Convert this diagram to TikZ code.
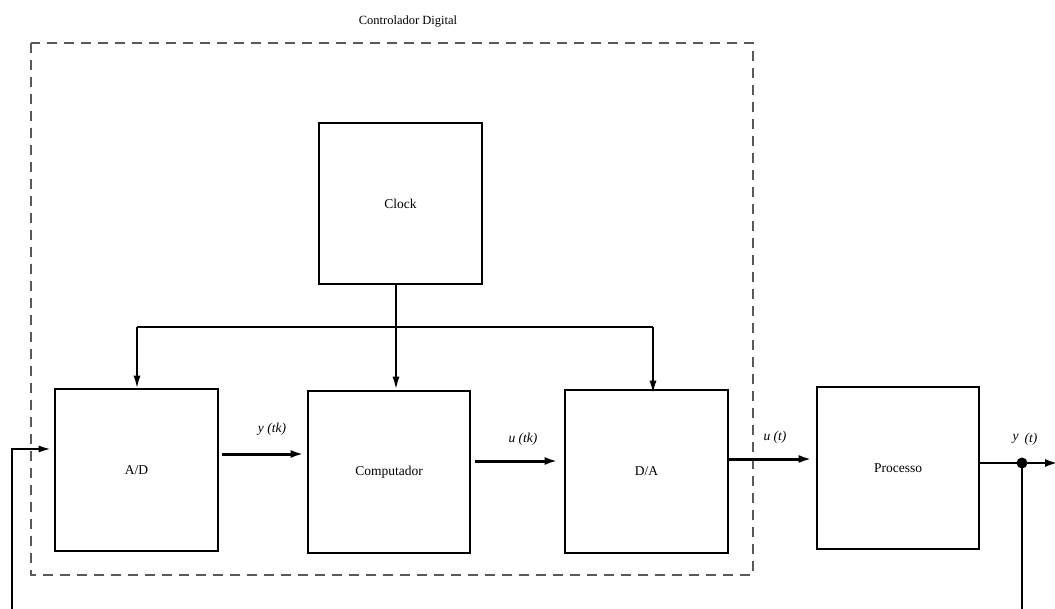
\documentclass[tikz,border=0pt]{standalone}
\usepackage{fontspec}
\setmainfont{Liberation Serif}
\usetikzlibrary{arrows.meta}
\begin{document}
\begin{tikzpicture}[x=1pt,y=-1pt,
  blk/.style={draw=black,line width=2.7pt,inner sep=0pt,font=\fontsize{13.5}{15}\selectfont},
  sig/.style={line width=3pt,-{Latex[length=13pt,width=8pt]}},
  busline/.style={line width=2.6pt},
  busarrow/.style={line width=2pt,-{Latex[length=13pt,width=7pt]}},
  fbline/.style={line width=2.4pt},
  lbl/.style={font=\fontsize{13.5}{15}\selectfont\itshape,inner sep=0pt},
  ctrl/.style={draw=black!65,line width=1.4pt,dash pattern=on 10pt off 7pt}]
\useasboundingbox (0,0) rectangle (1055,609);
% dashed controller frame
\draw[ctrl] (31,43) rectangle (753,575);
\node[font=\fontsize{12.5}{14}\selectfont,inner sep=0pt] (title) at (408,22) {Controlador Digital};
% blocks
\node[blk,minimum width=163pt,minimum height=161pt] (clock) at (400.5,203.5) {Clock};
\node[blk,minimum width=163pt,minimum height=162pt] (ad) at (136.5,470) {A/D};
\node[blk,minimum width=162pt,minimum height=162pt] (comp) at (389,472) {Computador};
\node[blk,minimum width=163pt,minimum height=163pt] (da) at (646.5,471.5) {D/A};
\node[blk,minimum width=162pt,minimum height=162pt] (proc) at (898,468) {Processo};
% clock distribution
\coordinate (j) at (396,327);
\draw[busarrow] (396,0 |- clock.south) -- (396,0 |- comp.north);
\draw[busline] (137,0 |- j) -- (653,0 |- j);
\draw[busarrow] (137,0 |- j) -- ([yshift=-1pt]137,0 |- ad.north);
\draw[busarrow] (653,0 |- j) -- ([yshift=-5pt]653,0 |- da.north);
% signals
\draw[sig,shorten <=3pt,shorten >=3pt] (ad.east |- 0,454) -- (comp.west |- 0,454);
\node[lbl] (ytk) at (272,429) {y (tk)};
\draw[sig,shorten <=4pt,shorten >=6pt] (comp.east |- 0,461) -- (da.west |- 0,461);
\node[lbl] (utk) at (523,439) {u (tk)};
\draw[sig,shorten >=4pt] (da.east |- 0,459) -- (proc.west |- 0,459);
\node[lbl] (ut) at (775,437) {u (t)};
% output and feedback
\coordinate (out) at (1058,463);
\coordinate (fbr) at (1022,609);
\coordinate (fbl) at (12,609);
\draw[sig,line width=2.6pt] (proc.east |- out) -- (out);
\node[circle,fill=black,inner sep=0pt,minimum size=11pt] (dot) at (1022,463) {};
\node[lbl] (yt) at (1025,439) {\raisebox{2pt}{y}\hspace{6pt}(t)};
\draw[fbline] (dot.center) -- (fbr);
\draw[fbline,-{Latex[length=13pt,width=7pt]},shorten >=2pt] (fbl) |- (ad.west |- 0,449);
\end{tikzpicture}
\end{document}
